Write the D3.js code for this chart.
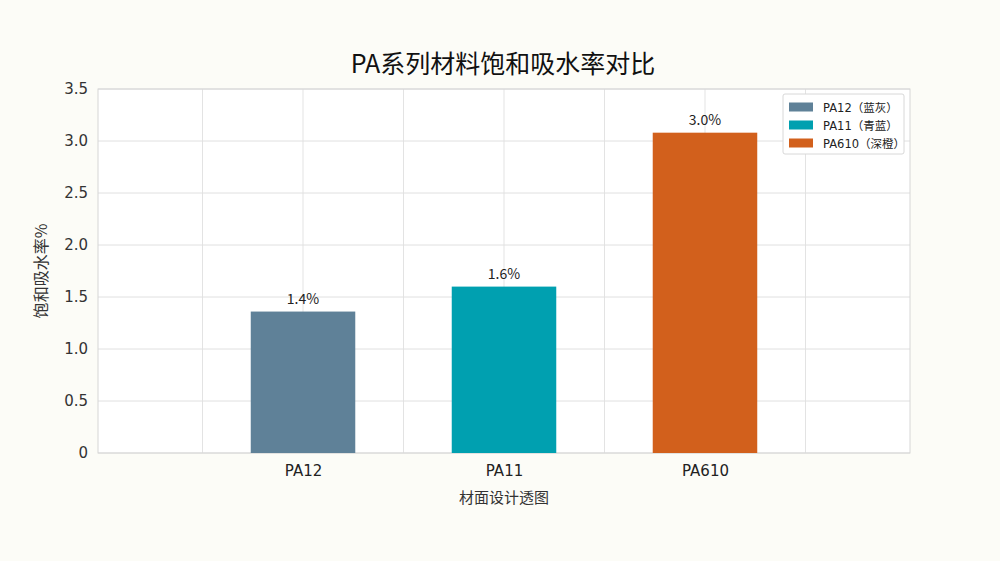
<!DOCTYPE html>
<html><head><meta charset="utf-8">
<script src="https://cdn.jsdelivr.net/npm/d3@7"></script>
<style>body{margin:0;background:#fcfcf7;}svg{display:block;font-family:"Noto Sans CJK SC","DejaVu Sans",sans-serif;}</style>
</head><body>
<svg id="c" width="1000" height="561"></svg>
<script>
const categories = ["PA12", "PA11", "PA610"];
const values = [1.36, 1.6, 3.08];
const valueLabels = ["1.4%", "1.6%", "3.0%"];
const legendLabels = ["PA12（蓝灰）", "PA11（青蓝）", "PA610（深橙）"];
const colors = ["#5f8198", "#00a0b0", "#d2601c"];
const yTicks = [0, 0.5, 1.0, 1.5, 2.0, 2.5, 3.0, 3.5];
const title = "PA系列材料饱和吸水率对比";
const yTitle = "饱和吸水率%";
const xTitle = "材面设计透图";

const svg = d3.select("#c");
const m = {l: 98, r: 90, t: 89, b: 108};
const W = 1000, H = 561;
const x = d3.scaleLinear().domain([-1.02, categories.length + 0.02]).range([m.l, W - m.r]);
const y = d3.scaleLinear().domain([0, 3.5]).range([H - m.b, m.t]);

svg.append("rect").attr("x", m.l).attr("y", m.t).attr("width", x.range()[1] - m.l).attr("height", y(0) - m.t).attr("fill", "#fff");

// grid
const gx = d3.range(-0.5, categories.length, 0.5);
svg.append("g").selectAll("line").data(gx).join("line")
  .attr("x1", d => x(d)).attr("x2", d => x(d)).attr("y1", m.t).attr("y2", y(0))
  .attr("stroke", "#e3e3e3").attr("stroke-width", 1);
svg.append("g").selectAll("line").data(yTicks).join("line")
  .attr("x1", m.l).attr("x2", x.range()[1]).attr("y1", d => y(d)).attr("y2", d => y(d))
  .attr("stroke", "#e0e0e0").attr("stroke-width", 1);

// frame
svg.append("rect").attr("x", m.l).attr("y", m.t).attr("width", x.range()[1] - m.l).attr("height", y(0) - m.t)
  .attr("fill", "none").attr("stroke", "#d6d6d6").attr("stroke-width", 1);

// bars
const bw = x(0.26) - x(-0.26);
svg.append("g").selectAll("rect").data(values).join("rect")
  .attr("x", (d, i) => x(i) - bw / 2).attr("width", bw)
  .attr("y", d => y(d)).attr("height", d => y(0) - y(d))
  .attr("fill", (d, i) => colors[i]);

svg.append("g").selectAll("text").data(values).join("text")
  .attr("x", (d, i) => x(i)).attr("y", d => y(d) - 8)
  .attr("text-anchor", "middle").attr("font-size", 14).attr("fill", "#222")
  .text((d, i) => valueLabels[i]);

// y axis
const ya = d3.axisLeft(y).tickValues(yTicks).tickSize(0).tickPadding(10)
  .tickFormat(d => d === 0 ? "0" : d3.format(".1f")(d));
const yg = svg.append("g").attr("transform", `translate(${m.l},0)`).call(ya);
yg.select(".domain").remove();
yg.selectAll("text").attr("font-size", 15).attr("fill", "#333").attr("font-family", "DejaVu Sans");

// x axis
const xa = d3.axisBottom(x).tickValues(d3.range(categories.length)).tickSize(0).tickPadding(12)
  .tickFormat(i => categories[i]);
const xg = svg.append("g").attr("transform", `translate(0,${y(0)})`).call(xa);
xg.select(".domain").remove();
xg.selectAll("text").attr("font-size", 15).attr("fill", "#222").attr("font-family", "DejaVu Sans");

// titles
svg.append("text").attr("x", 503).attr("y", 73).attr("text-anchor", "middle")
  .attr("font-size", 25).attr("fill", "#111").text(title);
svg.append("text").attr("x", 504).attr("y", 503).attr("text-anchor", "middle")
  .attr("font-size", 15).attr("fill", "#333").text(xTitle);
svg.append("text").attr("transform", "translate(47,271) rotate(-90)").attr("text-anchor", "middle")
  .attr("font-size", 16).attr("fill", "#333").text(yTitle);

// legend
const lg = svg.append("g").attr("transform", "translate(783,94)");
lg.append("rect").attr("width", 121).attr("height", 60).attr("rx", 2)
  .attr("fill", "#fff").attr("stroke", "#d8d8d8");
const li = lg.selectAll("g").data(legendLabels).join("g")
  .attr("transform", (d, i) => `translate(6,${13 + i * 18})`);
li.append("rect").attr("width", 24).attr("height", 9).attr("y", -4.5).attr("fill", (d, i) => colors[i]);
li.append("text").attr("x", 34).attr("y", 4.5).attr("font-size", 11.5).attr("fill", "#222")
  .attr("font-family", "DejaVu Sans, Noto Sans CJK SC, sans-serif").text(d => d);
</script>
</body></html>
